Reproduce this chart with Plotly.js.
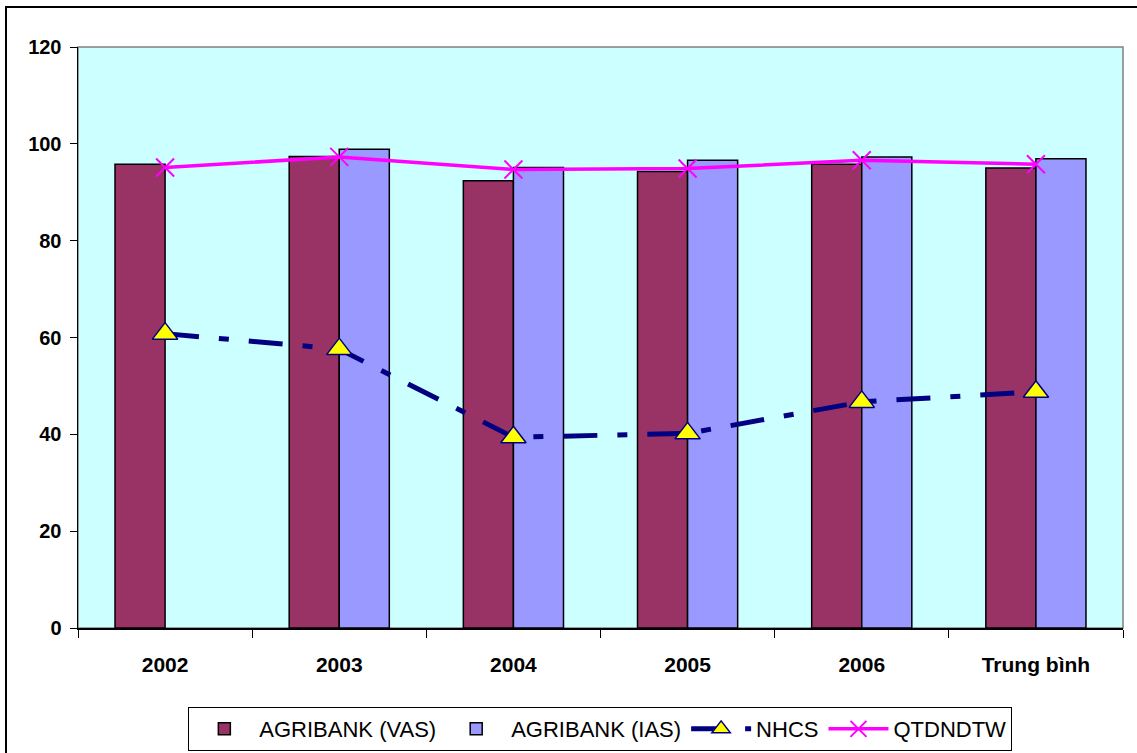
<!DOCTYPE html>
<html>
<head>
<meta charset="utf-8">
<script src="https://cdn.plot.ly/plotly-3.0.1.min.js"></script>
<style>
html,body{margin:0;padding:0;background:#fff;}
#chart{width:1137px;height:753px;}
</style>
</head>
<body>
<div id="chart"></div>
<script>
var categories = ["2002", "2003", "2004", "2005", "2006", "Trung bình"];
var agribankVAS = [95.8, 97.4, 92.4, 94.3, 95.8, 95.0];
var agribankIAS = [null, 98.9, 95.1, 96.6, 97.3, 96.9];
var nhcs = [60.8, 57.6, 39.4, 40.2, 46.7, 48.8];
var qtdndtw = [95.1, 97.3, 94.7, 94.9, 96.6, 95.8];
var yTicks = [0, 20, 40, 60, 80, 100, 120];

var font = "Arial, 'Liberation Sans', sans-serif";

var traces = [
  {type: "bar", name: "AGRIBANK (VAS)", x: categories, y: agribankVAS,
   marker: {color: "#993366", line: {color: "#000000", width: 1.5}}},
  {type: "bar", name: "AGRIBANK (IAS)", x: categories, y: agribankIAS,
   marker: {color: "#9999FF", line: {color: "#000000", width: 1.5}}},
  {type: "scatter", mode: "lines+markers", name: "NHCS", x: categories, y: nhcs,
   line: {color: "#000080", width: 5, dash: "34px,20px,10px,20px"},
   marker: {symbol: "triangle-up", size: 22, color: "#FFFF00", line: {color: "#000080", width: 1.5}}},
  {type: "scatter", mode: "lines+markers", name: "QTDNDTW", x: categories, y: qtdndtw,
   line: {color: "#FF00FF", width: 3.5},
   marker: {symbol: "x-thin-open", size: 18, color: "#FF00FF", line: {color: "#FF00FF", width: 2}}}
];

var layout = {
  width: 1137, height: 753,
  margin: {l: 78, r: 14, t: 47, b: 125},
  paper_bgcolor: "#FFFFFF",
  plot_bgcolor: "#CCFFFF",
  barmode: "group",
  bargap: 0.425,
  bargroupgap: 0,
  showlegend: true,
  font: {family: font, color: "#000000", size: 18},
  xaxis: {
    type: "category",
    automargin: false,
    showgrid: false, zeroline: false,
    showline: true, linecolor: "#000000", linewidth: 1.5,
    ticks: "outside", tickson: "boundaries", ticklen: 8, tickcolor: "#000000", tickwidth: 1,
    ticklabelstandoff: 17,
    tickfont: {family: font, size: 21, color: "#000000", weight: "bold"}
  },
  yaxis: {
    range: [0, 120],
    automargin: false,
    tickvals: yTicks,
    ticktext: yTicks.map(String),
    showgrid: false, zeroline: false,
    showline: true, linecolor: "#000000", linewidth: 1.5,
    ticks: "outside", ticklen: 7, tickcolor: "#000000", tickwidth: 1,
    ticklabelstandoff: 4,
    tickfont: {family: font, size: 20, color: "#000000", weight: "bold"}
  },
  legend: {
    orientation: "h",
    xref: "container", yref: "container",
    x: 0.528, xanchor: "center",
    y: 0.061, yanchor: "top",
    bgcolor: "#FFFFFF",
    bordercolor: "#000000", borderwidth: 1,
    font: {family: font, size: 22, color: "#000000"},
    itemwidth: 60,
    traceorder: "normal"
  },
  shapes: [
    {type: "rect", xref: "paper", yref: "paper", x0: 0, x1: 1, y0: 0, y1: 1,
     line: {color: "#808080", width: 1.5}, fillcolor: "rgba(0,0,0,0)", layer: "below"},
    {type: "rect", xref: "paper", yref: "paper", x0: -0.0689, x1: 1.02, y0: -0.22, y1: 1.0688,
     line: {color: "#000000", width: 2}, fillcolor: "rgba(0,0,0,0)", layer: "above"}
  ]
};

Plotly.newPlot("chart", traces, layout, {displayModeBar: false, staticPlot: true});
</script>
</body>
</html>
